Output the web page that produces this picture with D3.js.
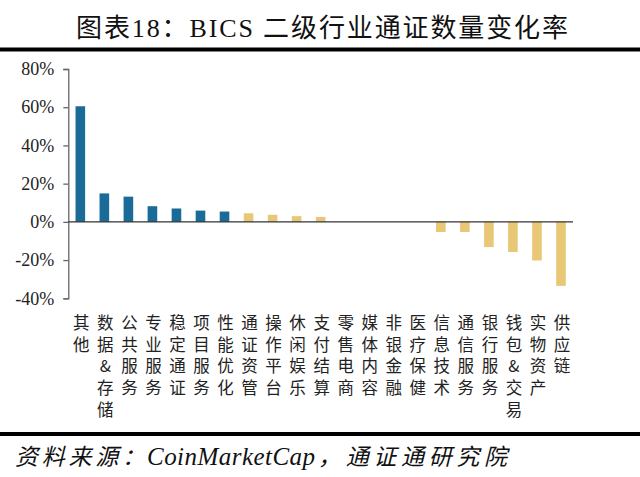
<!DOCTYPE html>
<html><head><meta charset="utf-8">
<script src="https://cdn.jsdelivr.net/npm/d3@7"></script>
<style>
html,body{margin:0;padding:0;background:#fff;}
svg{display:block;}
</style>
</head><body>
<svg id="chart" width="640" height="477"></svg>
<script>
const categories = ["其他","数据&存储","公共服务","专业服务","稳定通证","项目服务","性能优化","通证资管","操作平台","休闲娱乐","支付结算","零售电商","媒体内容","非银金融","医疗保健","信息技术","通信服务","银行服务","钱包&交易","实物资产","供应链"];
const values = [60.5, 14.9, 13.2, 8.2, 7.0, 5.9, 5.4, 4.5, 3.7, 3.0, 2.6, 0, 0, 0, 0, -5.3, -5.3, -13.2, -15.8, -20.2, -33.5];
const yTicks = [-40, -20, 0, 20, 40, 60, 80];
const title = "图表18：BICS 二级行业通证数量变化率";
const sourceParts = ["资料来源：", "CoinMarketCap", "，通证通研究院"];

const svg = d3.select("#chart");
const pLeft = 68.3, pRight = 573, pTop = 69, pBottom = 298.3;

const x = d3.scaleBand().domain(categories).range([pLeft, pRight]).paddingInner(0.6).paddingOuter(0.3);
const y = d3.scaleLinear().domain([-40, 80]).range([pBottom, pTop]);

// title
svg.append("text").attr("x", 76).attr("y", 37)
  .attr("font-family", "'Liberation Serif','Noto Sans CJK SC',serif")
  .attr("font-size", 26).attr("fill", "#111")
  .attr("textLength", 492).attr("lengthAdjust", "spacing")
  .text(title);
svg.append("rect").attr("x", 0).attr("y", 47.5).attr("width", 640).attr("height", 4).attr("fill", "#000");

// bars
svg.append("g").selectAll("rect").data(values).join("rect")
  .attr("x", (d, i) => x(categories[i]))
  .attr("width", x.bandwidth())
  .attr("y", d => y(Math.max(0, d)))
  .attr("height", d => Math.abs(y(d) - y(0)))
  .attr("fill", (d, i) => i < 7 ? "#1b6b98" : "#e8c877");

// y axis
const yAxis = d3.axisLeft(y).tickValues(yTicks).tickSize(5).tickPadding(9).tickFormat(d => d + "%");
const ga = svg.append("g").attr("transform", `translate(${pLeft},0)`).call(yAxis);
ga.select(".domain").attr("stroke", "#666").attr("stroke-width", 1.3);
ga.selectAll(".tick line").attr("stroke", "#666").attr("stroke-width", 1.3);
ga.selectAll(".tick text").attr("font-family", "'Liberation Serif',serif").attr("font-size", 18).attr("fill", "#222");

// zero line
svg.append("line").attr("x1", pLeft).attr("x2", pRight).attr("y1", y(0)).attr("y2", y(0))
  .attr("stroke", "#333").attr("stroke-width", 1.3);

// x labels (vertical)
const lg = svg.append("g").attr("font-family", "'Noto Sans CJK SC',serif").attr("font-size", 16.5).attr("fill", "#222").attr("text-anchor", "middle");
categories.forEach((c, i) => {
  const cx = x(c) + x.bandwidth() / 2 + 1;
  Array.from(c).forEach((ch, j) => {
    lg.append("text").attr("x", cx).attr("y", 323 + j * 21.7).attr("dy", "0.36em").text(ch);
  });
});

// bottom rule and source
svg.append("rect").attr("x", 0).attr("y", 432).attr("width", 640).attr("height", 4).attr("fill", "#000");
const srcX = [15, 147, 318], srcW = [130, 168, 189];
sourceParts.forEach((s, i) => {
  svg.append("text").attr("x", srcX[i]).attr("y", 465)
    .attr("font-family", "'Liberation Serif','Noto Sans CJK SC',serif")
    .attr("font-style", "italic").attr("font-size", i === 1 ? 25 : 23).attr("fill", "#111")
    .attr("textLength", srcW[i]).attr("lengthAdjust", "spacing")
    .text(s);
});
</script>
</body></html>
